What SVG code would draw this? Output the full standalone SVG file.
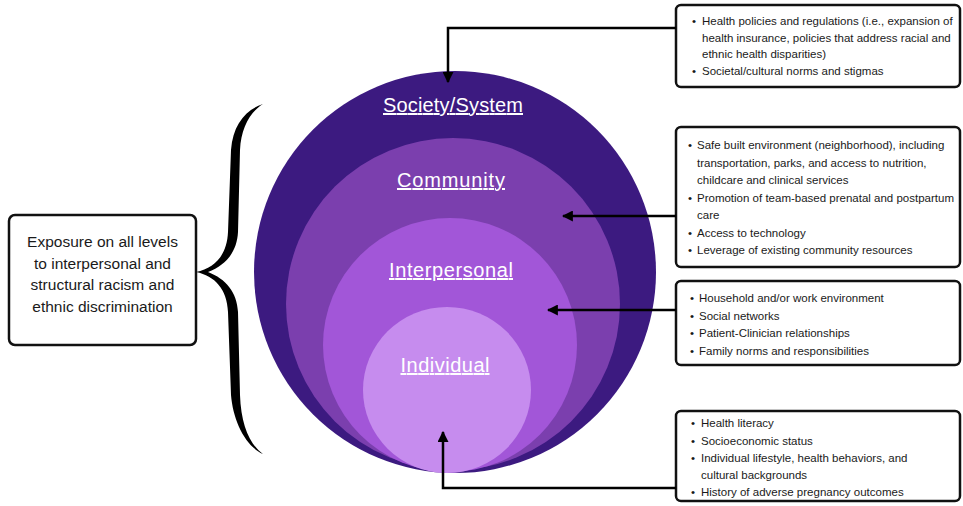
<svg xmlns="http://www.w3.org/2000/svg" width="963" height="506" viewBox="0 0 963 506">
  <defs>
    <style>
      .box { fill: #ffffff; stroke: #111111; stroke-width: 2.5; }
      .item { font-family: "Liberation Sans", Arial, sans-serif; font-size: 11.5px; fill: #1a1a1a; }
      .level { font-family: "Liberation Sans", Arial, sans-serif; font-size: 20px; fill: #ffffff; text-anchor: middle; text-decoration: underline; }
      .lead { font-family: "Liberation Sans", Arial, sans-serif; font-size: 15.5px; fill: #1a1a1a; text-anchor: middle; }
      .wire { fill: none; stroke: #000000; stroke-width: 2.5; }
    </style>
    <marker id="head" viewBox="0 0 10 10" refX="9" refY="5" markerWidth="4.4" markerHeight="4.4" orient="auto" markerUnits="strokeWidth">
      <path d="M0,0 L10,5 L0,10 Z" fill="#000000"/>
    </marker>
  </defs>

  <!-- nested levels of influence -->
  <g id="level-society">
    <circle cx="455" cy="272" r="201" fill="#3c1a80"/>
    <text class="level" x="453" y="112" textLength="140">Society/System</text>
  </g>
  <g id="level-community">
    <ellipse cx="453" cy="304" rx="167" ry="166" fill="#7b3fae"/>
    <text class="level" x="451" y="187" textLength="108">Community</text>
  </g>
  <g id="level-interpersonal">
    <ellipse cx="450" cy="345" rx="127" ry="127" fill="#a256d8"/>
    <text class="level" x="451" y="277" textLength="124">Interpersonal</text>
  </g>
  <g id="level-individual">
    <ellipse cx="447" cy="390" rx="84" ry="83" fill="#c68cee"/>
    <text class="level" x="445" y="372" textLength="89">Individual</text>
  </g>

  <!-- exposure note with curly brace -->
  <g id="exposure">
    <rect class="box" x="9" y="215" width="187" height="130" rx="6"/>
    <text class="lead" x="102.5" y="247">Exposure on all levels</text>
    <text class="lead" x="102.5" y="268.5">to interpersonal and</text>
    <text class="lead" x="102.5" y="290">structural racism and</text>
    <text class="lead" x="102.5" y="311.5">ethnic discrimination</text>
  </g>
  <g id="brace">
    <path fill="#000000" d="M263,104 C245,110 233,125 231,150 L228,232 C227,255 215,268 196,272 C215,276 227,289 228,312 L231,395 C233,420 245,446 263,454 C250,445 241,425 240,395 L238,312 C237,292 226,279 208,272 C226,265 237,252 238,232 L240,150 C241,128 250,112 263,104 Z"/>
  </g>

  <!-- factor boxes -->
  <g id="box-society">
    <rect class="box" x="676" y="5" width="284" height="82" rx="5"/>
    <g class="item">
      <text x="692" y="25">•</text><text x="702" y="25">Health policies and regulations (i.e., expansion of</text>
      <text x="702" y="41.5">health insurance, policies that address racial and</text>
      <text x="702" y="58">ethnic health disparities)</text>
      <text x="692" y="75">•</text><text x="702" y="75">Societal/cultural norms and stigmas</text>
    </g>
  </g>
  <g id="box-community">
    <rect class="box" x="676" y="127" width="284" height="140" rx="5"/>
    <g class="item">
      <text x="688" y="149">•</text><text x="697" y="149">Safe built environment (neighborhood), including</text>
      <text x="697" y="166.5">transportation, parks, and access to nutrition,</text>
      <text x="697" y="184">childcare and clinical services</text>
      <text x="688" y="201.5">•</text><text x="697" y="201.5">Promotion of team-based prenatal and postpartum</text>
      <text x="697" y="219">care</text>
      <text x="688" y="236.5">•</text><text x="697" y="236.5">Access to technology</text>
      <text x="688" y="254">•</text><text x="697" y="254">Leverage of existing community resources</text>
    </g>
  </g>
  <g id="box-interpersonal">
    <rect class="box" x="676" y="281" width="284" height="84" rx="5"/>
    <g class="item">
      <text x="690" y="302">•</text><text x="699" y="302">Household and/or work environment</text>
      <text x="690" y="319.5">•</text><text x="699" y="319.5">Social networks</text>
      <text x="690" y="337">•</text><text x="699" y="337">Patient-Clinician relationships</text>
      <text x="690" y="354.5">•</text><text x="699" y="354.5">Family norms and responsibilities</text>
    </g>
  </g>
  <g id="box-individual">
    <rect class="box" x="676" y="411" width="284" height="90" rx="5"/>
    <g class="item">
      <text x="691" y="427">•</text><text x="701" y="427">Health literacy</text>
      <text x="691" y="444.5">•</text><text x="701" y="444.5">Socioeconomic status</text>
      <text x="691" y="462">•</text><text x="701" y="462">Individual lifestyle, health behaviors, and</text>
      <text x="701" y="479">cultural backgrounds</text>
      <text x="691" y="496">•</text><text x="701" y="496">History of adverse pregnancy outcomes</text>
    </g>
  </g>

  <!-- connectors -->
  <g id="connectors">
    <path class="wire" marker-end="url(#head)" d="M676,28 L448,28 L448,82"/>
    <path class="wire" marker-end="url(#head)" d="M676,216 L563,216"/>
    <path class="wire" marker-end="url(#head)" d="M676,310 L548,310"/>
    <path class="wire" marker-end="url(#head)" d="M676,488 L443,488 L443,432"/>
  </g>
</svg>
